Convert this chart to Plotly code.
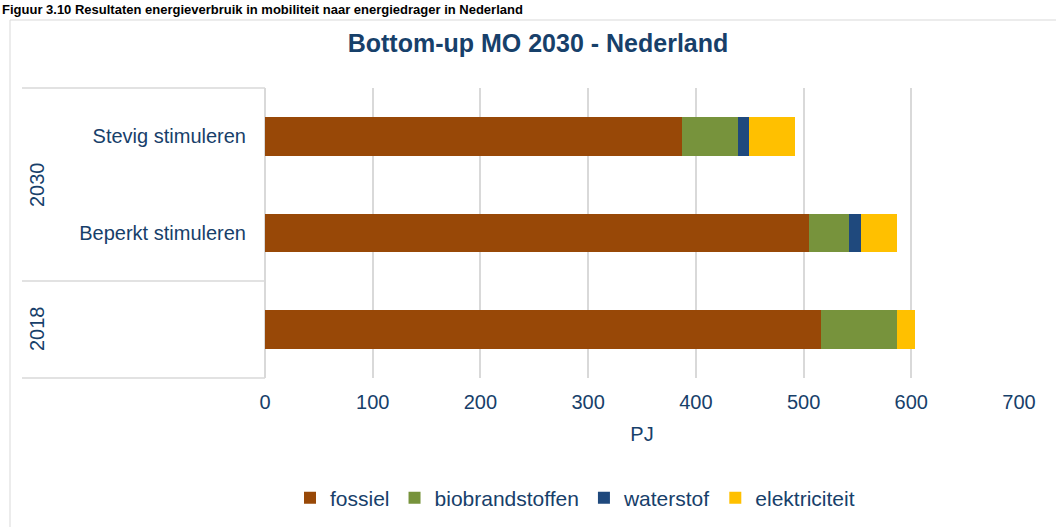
import plotly.graph_objects as go

categories = ["Stevig stimuleren", "Beperkt stimuleren", " "]
groups = ["2030", "2018"]
fossiel = [387, 505, 516]
biobrandstoffen = [52, 37, 71]
waterstof = [10, 11.5, 0]
elektriciteit = [43, 33.5, 16]
series_names = ["fossiel", "biobrandstoffen", "waterstof", "elektriciteit"]
colors = ["#984807", "#77933C", "#1F497D", "#FFC000"]
x_ticks = [0, 100, 200, 300, 400, 500, 600, 700]

W, H = 1056, 527
L, R, T, B = 265, 37, 88, 149
txt = "#17406A"
grid = "#D9D9D9"
FONT = "Liberation Sans, Arial, sans-serif"

fig = go.Figure()
for name, vals, col in zip(series_names, [fossiel, biobrandstoffen, waterstof, elektriciteit], colors):
    fig.add_trace(go.Bar(y=categories, x=vals, name=name, orientation="h",
                         marker=dict(color=col, line=dict(width=0))))

def py(p):  # pixel y -> paper
    return 1 - (p - T) / (H - T - B)

def px(p):
    return (p - L) / (W - L - R)

shapes = []
shapes.append(dict(type="rect", xref="paper", yref="paper", x0=px(10), x1=px(1062), y0=py(20), y1=py(535),
                   line=dict(color=grid, width=1)))
for yy in [88, 281, 378]:
    shapes.append(dict(type="line", xref="paper", yref="paper", x0=px(22), x1=px(265), y0=py(yy), y1=py(yy),
                       line=dict(color=grid, width=1.5)))

annotations = [
    dict(text="<b>Figuur 3.10 Resultaten energieverbruik in mobiliteit naar energiedrager in Nederland</b>",
         xref="paper", yref="paper", x=px(0), y=py(0), xanchor="left", yanchor="top", showarrow=False,
         font=dict(size=13, color="#000000", family=FONT)),
    dict(text="2030", xref="paper", yref="paper", x=px(37), y=py(185), xanchor="center", yanchor="middle",
         textangle=-90, showarrow=False, font=dict(size=20, color=txt)),
    dict(text="2018", xref="paper", yref="paper", x=px(37), y=py(329), xanchor="center", yanchor="middle",
         textangle=-90, showarrow=False, font=dict(size=20, color=txt)),
]

fig.update_layout(
    width=W, height=H, barmode="stack", bargap=0.6,
    margin=dict(l=L, r=R, t=T, b=B),
    paper_bgcolor="white", plot_bgcolor="white",
    font=dict(family=FONT, color=txt, size=20),
    title=dict(text="<b>Bottom-up MO 2030 - Nederland</b>", x=538 / W, xanchor="center",
               y=1 - 43 / H, yanchor="middle", font=dict(size=25, color=txt)),
    xaxis=dict(range=[0, 700], tickvals=x_ticks, showgrid=True, gridcolor=grid, gridwidth=2,
               zeroline=True, zerolinecolor=grid, zerolinewidth=2, showline=False,
               tickfont=dict(size=20, color=txt), ticks="", ticklabelstandoff=10,
               title=dict(text="PJ", font=dict(size=20, color=txt), standoff=14)),
    yaxis=dict(type="category", autorange="reversed", showgrid=False, ticks="", showline=False,
               tickfont=dict(size=20, color=txt), ticklabelstandoff=18),
    legend=dict(orientation="h", xref="container", x=575 / W, xanchor="center",
                yref="container", y=1 - 498 / H, yanchor="middle",
                font=dict(size=21, color=txt), itemwidth=30, traceorder="normal"),
    shapes=shapes, annotations=annotations,
)
fig.write_html("out.html", config={"displayModeBar": False},
               post_script="document.body.style.margin='0px';document.body.style.overflow='hidden';")
